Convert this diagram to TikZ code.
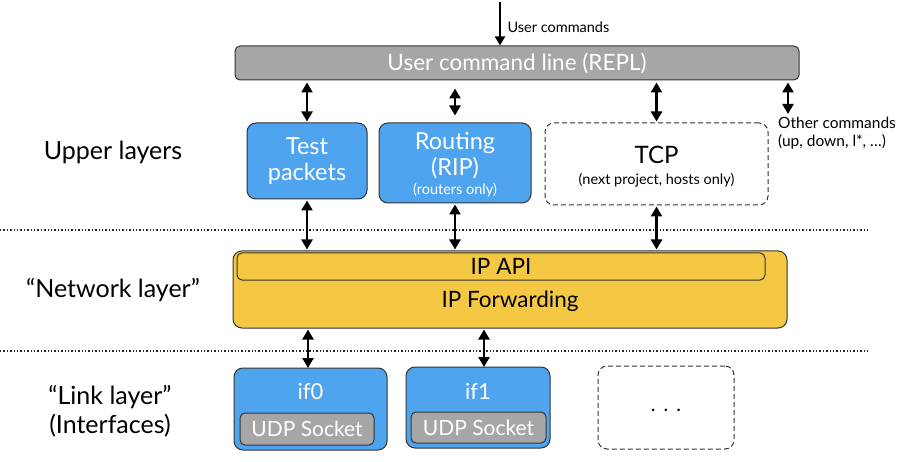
\documentclass[tikz,border=0pt]{standalone}
\usepackage{fontspec}
\setmainfont{Lato}
\usetikzlibrary{arrows.meta}
\definecolor{boxblue}{HTML}{4FA4F0}
\definecolor{boxgray}{HTML}{A6A6A6}
\definecolor{ipyellow}{HTML}{F5C843}
\definecolor{edge}{HTML}{333333}
\tikzset{
  base/.style={draw=edge, line width=1pt, rounded corners=9pt, inner sep=0pt, align=center},
  bluebox/.style={base, fill=boxblue, text=white, font=\fontsize{23.5}{26}\selectfont},
  graybar/.style={base, fill=boxgray, text=white, rounded corners=5pt},
  dashbox/.style={base, dash pattern=on 5pt off 3pt, draw=edge, line width=1pt},
  dbl/.style={line width=2.4pt, {Triangle[length=10pt,width=11pt]}-{Triangle[length=10pt,width=11pt]}},
  sgl/.style={line width=1.8pt, -{Triangle[length=9pt,width=10pt]}},
  sep/.style={line width=1.4pt, dotted, draw=black!85},
  lbl/.style={font=\fontsize{25}{29}\selectfont, align=center},
  small/.style={font=\fontsize{14.5}{17}\selectfont}
}
\begin{document}
\begin{tikzpicture}[x=1pt,y=-1pt]
\useasboundingbox (0,0) rectangle (907,462);
% REPL
\node[graybar, minimum width=564pt, minimum height=34pt, font=\fontsize{22.5}{25}\selectfont] (repl) at (517,63) {User command line (REPL)};
\coordinate (ucin) at (500,2);
\draw[sgl] (ucin) -- (repl.north -| ucin);
\node[small, anchor=west] (uclbl) at (504,27) {User commands};
% upper boxes
\node[bluebox, minimum width=120pt, minimum height=76pt] (test) at (307,161) {Test\\packets};
\node[bluebox, minimum width=152pt, minimum height=80pt] (rip) at (455,163) {};
\node[text=white, font=\fontsize{23.5}{26}\selectfont, align=center] (riptxt) at (455,156) {Routing\\(RIP)};
\node[text=white, small] (ripsub) at (455,190) {(routers only)};
\node[dashbox, minimum width=223pt, minimum height=82pt] (tcp) at (656.5,164) {};
\node[font=\fontsize{24}{27}\selectfont] (tcptxt) at (656.5,155) {TCP};
\node[small] (tcpsub) at (656.5,180) {(next project, hosts only)};
\node[small, anchor=north west, align=left, inner sep=0pt, font=\fontsize{15.5}{18}\selectfont] (other) at (778,117) {Other commands\\(up, down, l*, \dots)};
\coordinate (othertip) at (788,114);
% REPL arrows
\draw[dbl, shorten <=2pt, shorten >=1pt] (repl.south -| test.north) -- (test.north);
\draw[dbl, shorten <=8pt, shorten >=7pt] (repl.south -| rip.north) -- (rip.north);
\draw[dbl, shorten <=2pt, shorten >=1pt] (repl.south -| tcp.north) -- (tcp.north);
\draw[dbl, shorten <=2pt] (repl.south -| othertip) -- (othertip);
% layer labels
\node[lbl] (upper) at (113,152) {Upper layers};
\node[lbl] (netl) at (113,290) {``Network layer''};
\node[lbl] (linkl) at (110,411) {``Link layer''\\(Interfaces)};
% separators
\coordinate (s1a) at (0,230); \coordinate (s1b) at (870,230);
\coordinate (s2a) at (0,351); \coordinate (s2b) at (870,351);
\draw[sep] (s1a) -- (s1b);
\draw[sep] (s2a) -- (s2b);
% IP block
\node[base, fill=ipyellow, minimum width=554pt, minimum height=77pt] (ip) at (510,289.5) {};
\node[base, fill=ipyellow, rounded corners=5pt, minimum width=528pt, minimum height=27pt, font=\fontsize{22.5}{25}\selectfont] (ipapi) at (501,266.5) {IP API};
\node[font=\fontsize{22.5}{25}\selectfont] (ipfwd) at (510,301) {IP Forwarding};
% upper to IP arrows
\draw[dbl, shorten <=1pt, shorten >=1pt] (test.south) -- (ip.north -| test.south);
\draw[dbl, shorten <=1pt, shorten >=1pt] (rip.south) -- (ip.north -| rip.south);
\draw[dbl, shorten <=1pt, shorten >=1pt] (tcp.south) -- (ip.north -| tcp.south);
% interfaces
\node[bluebox, minimum width=153pt, minimum height=82pt] (if0) at (310.5,409) {};
\node[text=white, font=\fontsize{22}{25}\selectfont] (if0t) at (310.5,392) {if0};
\node[graybar, minimum width=134pt, minimum height=32pt, font=\fontsize{21}{24}\selectfont] (udp0) at (307,429) {UDP Socket};
\node[bluebox, minimum width=144pt, minimum height=81pt] (if1) at (478,407.5) {};
\node[text=white, font=\fontsize{22}{25}\selectfont] (if1t) at (478,391) {if1};
\node[graybar, minimum width=135pt, minimum height=31pt, font=\fontsize{21}{24}\selectfont] (udp1) at (478.5,427.5) {UDP Socket};
\node[dashbox, minimum width=136pt, minimum height=83pt] (ifx) at (666,407.5) {};
\node[font=\fontsize{20}{23}\selectfont] (ifxt) at (666,410) {.\hspace{8pt}.\hspace{8pt}.};
% IP to interfaces
\coordinate (a0) at (308,368);
\coordinate (a1) at (484,367);
\draw[dbl, shorten <=1pt] (ip.south -| a0) -- (a0);
\draw[dbl, shorten <=1pt] (ip.south -| a1) -- (a1);
\end{tikzpicture}
\end{document}
